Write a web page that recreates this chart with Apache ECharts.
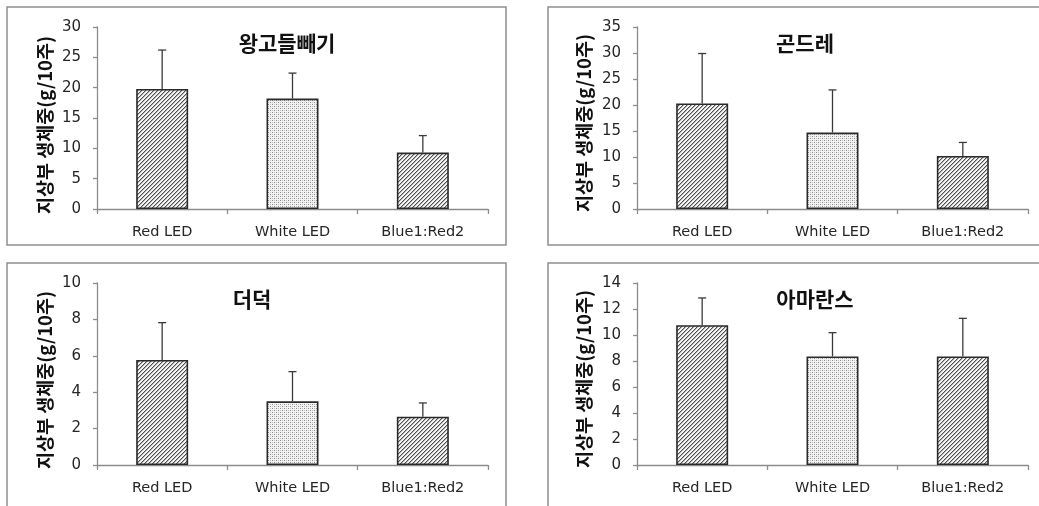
<!DOCTYPE html>
<html>
<head>
<meta charset="utf-8">
<script src="https://cdn.jsdelivr.net/npm/echarts@6/dist/echarts.min.js"></script>
<style>
  html, body { margin: 0; padding: 0; background: #fff; }
  #chart { width: 1039px; height: 506px; }
</style>
</head>
<body>
<div id="chart"></div>
<script>
// Light treatments on the x axis
const categories = ['Red LED', 'White LED', 'Blue1:Red2'];

// Crop names, one per panel
const titles = ['왕고들빼기', '곤드레', '더덕', '아마란스'];
const yAxisTitle = '지상부 생체중(g/10주)';

// Mean fresh weight of the above-ground part (g / 10 plants)
const wangMeans   = [19.8, 18.2, 9.3];
const gondreMeans = [20.3, 14.7, 10.2];
const deodeokMeans = [5.77, 3.5, 2.65];
const amaranthMeans = [10.75, 8.35, 8.35];

// Standard deviations (upper error bars)
const wangSd    = [6.4, 4.2, 2.8];
const gondreSd  = [9.6, 8.2, 2.6];
const deodeokSd = [2.05, 1.63, 0.76];
const amaranthSd = [2.1, 1.83, 2.93];

// Value axis ranges: [max, interval]
const axisMax = [30, 35, 10, 14];
const axisInterval = [5, 5, 2, 2];

const panelMeans = [wangMeans, gondreMeans, deodeokMeans, amaranthMeans];
const panelSd = [wangSd, gondreSd, deodeokSd, amaranthSd];

// Fill patterns: diagonal hatch and fine dots
function hatchPattern() {
  const c = document.createElement('canvas');
  c.width = 4; c.height = 4;
  const g = c.getContext('2d');
  g.fillStyle = '#f3f3f3';
  g.fillRect(0, 0, 4, 4);
  for (let i = 0; i < 4; i++) {
    g.fillStyle = '#505050';
    g.fillRect(i, 3 - i, 1, 1);
    g.fillStyle = '#b4b4b4';
    g.fillRect(i, (4 - i) % 4, 1, 1);
  }
  return { image: c, repeat: 'repeat' };
}
function dotPattern() {
  const c = document.createElement('canvas');
  c.width = 4; c.height = 4;
  const g = c.getContext('2d');
  g.fillStyle = '#f2f2f2';
  g.fillRect(0, 0, 4, 4);
  g.fillStyle = '#8e8e8e';
  g.fillRect(0, 0, 1, 1);
  g.fillRect(2, 2, 1, 1);
  g.fillStyle = '#c4c4c4';
  g.fillRect(2, 0, 1, 1);
  g.fillRect(0, 2, 1, 1);
  return { image: c, repeat: 'repeat' };
}
const hatch = hatchPattern();
const dots = dotPattern();
const barFills = [hatch, dots, hatch];

// Panel geometry
const panels = [
  { left: 97,  top: 27,  frame: [7, 7, 499, 238],   titleX: 287, titleY: 43,  labelX: 45,  labelY: 125 },
  { left: 637, top: 27,  frame: [548, 7, 520, 238], titleX: 805, titleY: 43,  labelX: 584, labelY: 123 },
  { left: 97,  top: 283, frame: [7, 263, 499, 260], titleX: 252, titleY: 299, labelX: 45,  labelY: 380 },
  { left: 637, top: 283, frame: [548, 263, 520, 260], titleX: 815, titleY: 299, labelX: 584, labelY: 379 }
];
const gridW = 391, gridH = 182;

const textColor = '#262626';
const axisColor = '#8c8c8c';

const grid = [], xAxis = [], yAxis = [], series = [], graphic = [];

panels.forEach((p, i) => {
  grid.push({ left: p.left, top: p.top, width: gridW, height: gridH, containLabel: false });
  xAxis.push({
    type: 'category', gridIndex: i, data: categories,
    axisLine: { lineStyle: { color: axisColor, width: 1.3 } },
    axisTick: { show: true, length: 5, lineStyle: { color: axisColor, width: 1.3 } },
    axisLabel: { color: textColor, fontFamily: 'DejaVu Sans', fontSize: 14.5, margin: 16 },
    splitLine: { show: false }
  });
  yAxis.push({
    type: 'value', gridIndex: i, min: 0, max: axisMax[i], interval: axisInterval[i],
    axisLine: { show: true, lineStyle: { color: axisColor, width: 1.3 } },
    axisTick: { show: true, length: 4, lineStyle: { color: axisColor, width: 1.3 } },
    axisLabel: { color: textColor, fontFamily: 'DejaVu Sans', fontSize: 15, margin: 16 },
    splitLine: { show: false }
  });

  series.push({
    type: 'bar', xAxisIndex: i, yAxisIndex: i, barWidth: 52,
    data: panelMeans[i].map((v, k) => ({
      value: v,
      itemStyle: { color: barFills[k], borderColor: '#2a2a2a', borderWidth: 1.6 }
    })),
    silent: true, animation: false
  });

  const means = panelMeans[i], sds = panelSd[i];
  series.push({
    type: 'custom', xAxisIndex: i, yAxisIndex: i, z: 5, silent: true, animation: false,
    data: means.map((m, k) => [k, m, m + sds[k]]),
    renderItem: (params, api) => {
      const base = api.coord([api.value(0), api.value(1)]);
      const top = api.coord([api.value(0), api.value(2)]);
      const cap = 4;
      const style = { stroke: '#3a3a3a', lineWidth: 1.3 };
      return {
        type: 'group',
        children: [
          { type: 'line', shape: { x1: base[0], y1: base[1], x2: top[0], y2: top[1] }, style },
          { type: 'line', shape: { x1: top[0] - cap, y1: top[1], x2: top[0] + cap, y2: top[1] }, style }
        ]
      };
    }
  });

  graphic.push({
    type: 'rect', silent: true, z: -1,
    shape: { x: p.frame[0], y: p.frame[1], width: p.frame[2], height: p.frame[3] },
    style: { fill: null, stroke: '#8f8f8f', lineWidth: 1.5 }
  });
  graphic.push({
    type: 'text', silent: true, x: p.titleX, y: p.titleY,
    style: {
      text: titles[i], fill: '#111', align: 'center', verticalAlign: 'middle',
      font: 'bold 21px "Noto Sans CJK KR"'
    }
  });
  graphic.push({
    type: 'text', silent: true, x: p.labelX, y: p.labelY, rotation: Math.PI / 2,
    style: {
      text: yAxisTitle, fill: '#111', align: 'center', verticalAlign: 'middle',
      font: 'bold 18.5px "Noto Sans CJK KR"'
    }
  });
});

const chart = echarts.init(document.getElementById('chart'), null, { renderer: 'canvas' });
chart.setOption({
  backgroundColor: '#fff',
  animation: false,
  grid, xAxis, yAxis, series, graphic
});
</script>
</body>
</html>
